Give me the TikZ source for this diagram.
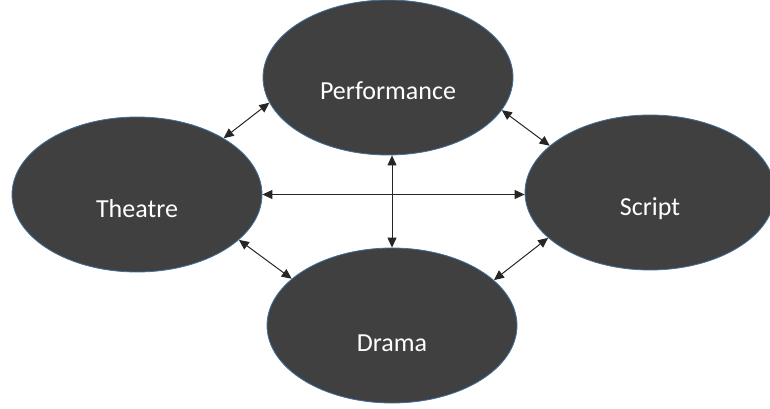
\documentclass[tikz,border=0pt]{standalone}
\usepackage{fontspec}
\setmainfont{Carlito}
\usetikzlibrary{arrows.meta,shapes.geometric}

\definecolor{blobfill}{HTML}{404040}
\definecolor{blobline}{HTML}{41719C}

\begin{document}
\begin{tikzpicture}[
x=1pt, y=1pt,
topic/.style={
    ellipse, draw=blobline, line width=0.8pt, fill=blobfill,
    minimum width=250pt, minimum height=155pt, inner sep=0pt
},
lbl/.style={text=white, font=\fontsize{26}{30}\selectfont},
rel/.style={
    {Triangle[length=10pt,width=9pt]}-{Triangle[length=10pt,width=9pt]},
    line width=1pt, black!85
},
]
\useasboundingbox (0,0) rectangle (770,408);

\node[topic, label={[lbl,yshift=-13pt]center:Performance}] (perf)    at (388,330.5) {};
\node[topic, label={[lbl,yshift=-14pt]center:Theatre}]     (theatre) at (137,213.5) {};
\node[topic, label={[lbl,yshift=-16pt]center:Script}]      (script)  at (650,215.5) {};
\node[topic, label={[lbl,yshift=-18pt]center:Drama}]       (drama)   at (392,82.5)  {};

\draw[rel] (theatre.33)  -- (perf.192);
\draw[rel] (perf.344)    -- (script.155);
\draw[rel] (theatre.336) -- (drama.155);
\draw[rel] (drama.24)    -- (script.204);
\draw[rel] (theatre.east) -- (theatre.east -| script.west);
\draw[rel] (drama.north |- perf.south) -- (drama.north);
%\draw[rel] (perf.south) -- (drama.north);

\end{tikzpicture}
\end{document}
